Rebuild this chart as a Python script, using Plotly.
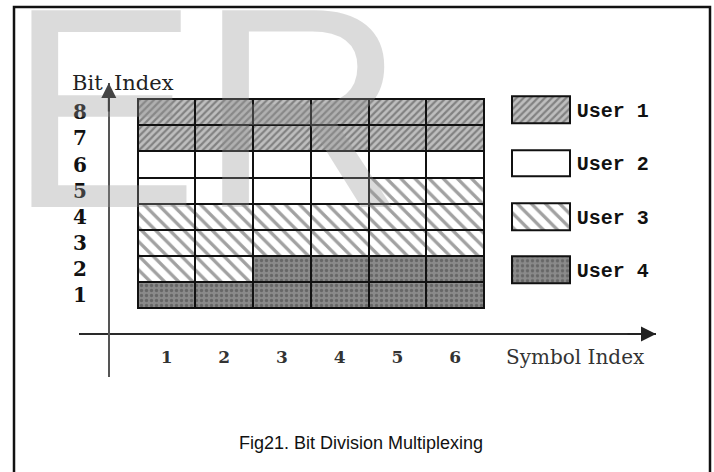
import plotly.graph_objects as go

W, H = 714, 472

symbols = [1, 2, 3, 4, 5, 6]
bits = [1, 2, 3, 4, 5, 6, 7, 8]
users = ["User 1", "User 2", "User 3", "User 4"]
# owner of each cell, bit 1 row first, one entry per symbol index
owner = [
    [4, 4, 4, 4, 4, 4],
    [3, 3, 4, 4, 4, 4],
    [3, 3, 3, 3, 3, 3],
    [3, 3, 3, 3, 3, 3],
    [2, 2, 2, 2, 3, 3],
    [2, 2, 2, 2, 2, 2],
    [1, 1, 1, 1, 1, 1],
    [1, 1, 1, 1, 1, 1],
]

# fill style per user
styles = {
    1: dict(shape="/", bg="#bebebe", fg="#e6e6e6", size=5, solidity=0.45),
    2: dict(shape="", bg="#ffffff", fg="#ffffff", size=8, solidity=0.3),
    3: dict(shape="\\", bg="#ffffff", fg="#8e8e8e", size=10, solidity=0.33),
    4: dict(shape=".", bg="#8a8a8a", fg="#d4d4d4", size=5, solidity=0.35),
}


def px(x):
    return x / W


def py(y):
    return 1 - y / H


def marker_for(user_ids):
    st = [styles[u] for u in user_ids]
    return dict(
        color=[s["bg"] for s in st],
        line=dict(color="#111111", width=2),
        pattern=dict(
            shape=[s["shape"] for s in st],
            bgcolor=[s["bg"] for s in st],
            fgcolor=[s["fg"] for s in st],
            size=[s["size"] for s in st],
            solidity=[s["solidity"] for s in st],
        ),
    )


cell_x, cell_base, cell_owner = [], [], []
for b, row in zip(bits, owner):
    for s, u in zip(symbols, row):
        cell_x.append(s)
        cell_base.append(b - 0.5)
        cell_owner.append(u)

fig = go.Figure()
fig.add_trace(go.Bar(
    x=cell_x, y=[1] * len(cell_x), base=cell_base, width=1,
    marker=marker_for(cell_owner), showlegend=False, hoverinfo="skip",
))

# legend swatches on their own small axes
fig.add_trace(go.Bar(
    x=[1] * len(users), y=users, base=0, orientation="h", width=0.5,
    marker=marker_for([1, 2, 3, 4]), xaxis="x2", yaxis="y2",
    showlegend=False, hoverinfo="skip",
))

serif = "DejaVu Serif"
x_range = [-0.517, 9.48]
y_range = [-2.145, 9.124]

fig.update_layout(
    width=W, height=H,
    margin=dict(l=0, r=0, t=0, b=0),
    paper_bgcolor="white", plot_bgcolor="rgba(0,0,0,0)",
    barmode="overlay", bargap=0,
    xaxis=dict(
        domain=[px(79), px(656)], range=x_range, anchor="free", position=py(334),
        showline=True, linecolor="#2a2a2a", linewidth=2, showgrid=False, zeroline=False,
        tickvals=symbols, ticks="", ticklabelstandoff=8,
        tickfont=dict(family=serif, size=17, color="#333333", weight="bold"),
    ),
    yaxis=dict(
        domain=[py(377), py(83)], range=y_range, anchor="free", position=px(109),
        showline=True, linecolor="#555555", linewidth=2, showgrid=False, zeroline=False,
        tickvals=bits, ticks="", ticklabelstandoff=17,
        tickfont=dict(family=serif, size=20, color="#111111", weight="bold"),
    ),
    xaxis2=dict(domain=[px(510), px(571.7)], range=[-0.03, 1.03], anchor="y2",
                visible=False),
    yaxis2=dict(domain=[py(296.7), py(83.3)], range=[3.5, -0.5], anchor="x2",
                side="right", showline=False, showgrid=False, zeroline=False,
                ticks="", ticklabelstandoff=4,
                tickfont=dict(family="Liberation Mono", size=20, color="#111111",
                              weight="bold")),
)

# outer frame
fig.add_shape(type="rect", xref="paper", yref="paper",
              x0=px(14), x1=px(710), y0=-0.05, y1=py(7),
              line=dict(color="#111111", width=2.5))

# watermark
fig.add_annotation(text="ER", xref="paper", yref="paper", x=px(6), y=py(108),
                   xanchor="left", yanchor="middle", showarrow=False,
                   font=dict(family="Liberation Sans", size=286,
                             color="rgba(150,150,150,0.34)"))

# axis arrowheads
fig.add_annotation(x=x_range[1], y=-0.5, xref="x", yref="y", text="", showarrow=True,
                   ax=-30, ay=0, arrowhead=2, arrowsize=1.5, arrowwidth=2,
                   arrowcolor="#222222")
fig.add_annotation(x=0, y=y_range[1], xref="x", yref="y", text="", showarrow=True,
                   ax=0, ay=30, arrowhead=2, arrowsize=1.5, arrowwidth=2,
                   arrowcolor="#444444")

# axis titles
fig.add_annotation(text="Bit", xref="paper", yref="paper", x=px(105), y=py(83),
                   xanchor="right", yanchor="middle", showarrow=False,
                   font=dict(family=serif, size=21, color="#222222"))
fig.add_annotation(text="Index", xref="paper", yref="paper", x=px(112), y=py(83),
                   xanchor="left", yanchor="middle", showarrow=False,
                   font=dict(family=serif, size=21, color="#222222"))
fig.add_annotation(text="Symbol Index", xref="paper", yref="paper", x=px(575), y=py(357),
                   xanchor="center", yanchor="middle", showarrow=False,
                   font=dict(family=serif, size=20, color="#333333"))

# caption
fig.add_annotation(text="Fig21. Bit Division Multiplexing", xref="paper", yref="paper",
                   x=px(361), y=py(443), xanchor="center", yanchor="middle",
                   showarrow=False,
                   font=dict(family="Liberation Sans", size=18, color="#111111"))

fig.write_html("out.html", config={"displayModeBar": False},
               post_script="document.body.style.margin='0';")
